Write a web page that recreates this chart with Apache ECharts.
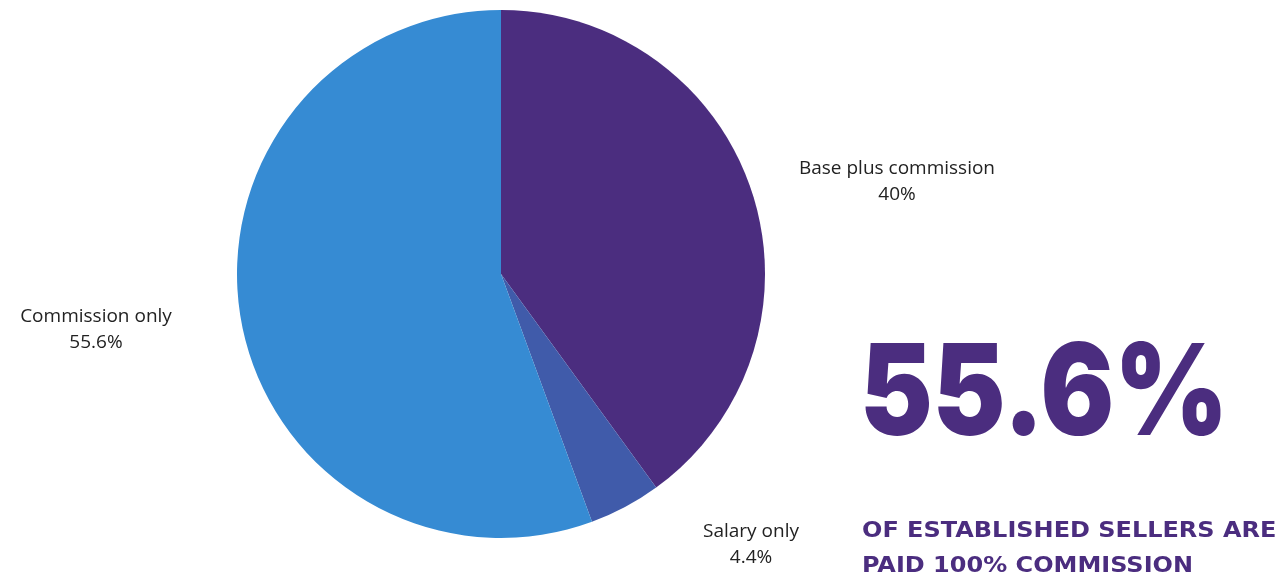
<!DOCTYPE html>
<html><head><meta charset="utf-8">
<script src="https://cdn.jsdelivr.net/npm/echarts@6/dist/echarts.min.js"></script>
<style>html,body{margin:0;padding:0;background:#fff}#c{width:1282px;height:574px}</style>
</head><body><div id="c"></div>
<script>
const categories = ['Base plus commission', 'Salary only', 'Commission only'];
const values = [40, 4.4, 55.6];
const valueLabels = ['40%', '4.4%', '55.6%'];
const headline = '55.6%';
const subLines = ['OF ESTABLISHED SELLERS ARE', 'PAID 100% COMMISSION'];

const colors = ['#4B2D7F', '#405BAA', '#368BD3'];
const labelPos = [[897, 182], [751, 545], [96, 330]];

const chart = echarts.init(document.getElementById('c'));
chart.setOption({
  animation: false,
  series: [{
    type: 'pie',
    center: [501, 274],
    radius: 264,
    startAngle: 90,
    clockwise: true,
    data: categories.map((n, i) => ({ name: n, value: values[i], itemStyle: { color: colors[i] } })),
    label: {
      show: true,
      position: 'outside',
      formatter: p => p.name + '\n' + valueLabels[p.dataIndex],
      fontFamily: 'Open Sans',
      fontWeight: 'normal',
      fontSize: 19,
      lineHeight: 26,
      color: '#222',
      align: 'center'
    },
    labelLine: { show: false },
    labelLayout: p => ({ x: labelPos[p.dataIndex][0], y: labelPos[p.dataIndex][1], align: 'center', verticalAlign: 'middle' })
  }],
  graphic: [
    { type: 'text', x: 860, y: 397, scaleX: 0.86, style: { text: headline, fontFamily: 'Inter', fontWeight: 900, fontSize: 127, fill: '#4B2D7F', textVerticalAlign: 'middle' } },
    { type: 'text', x: 862, y: 520, scaleX: 1.09, style: { text: subLines[0], fontFamily: 'DejaVu Sans', fontWeight: 'bold', fontSize: 22, fill: '#4B2D7F', textVerticalAlign: 'top' } },
    { type: 'text', x: 862, y: 555, scaleX: 1.09, style: { text: subLines[1], fontFamily: 'DejaVu Sans', fontWeight: 'bold', fontSize: 22, fill: '#4B2D7F', textVerticalAlign: 'top' } }
  ]
});
</script></body></html>
